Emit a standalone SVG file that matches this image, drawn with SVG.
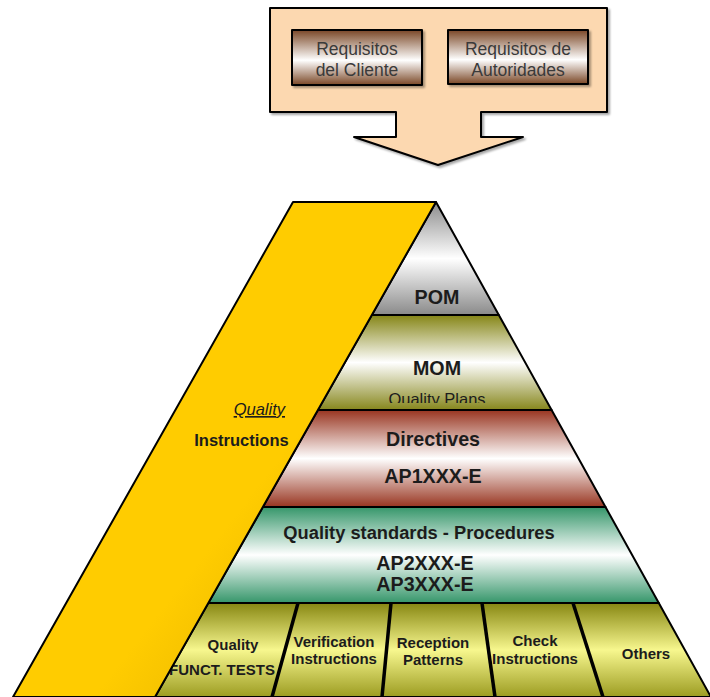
<svg xmlns="http://www.w3.org/2000/svg" width="710" height="697" viewBox="0 0 710 697">
<style>
  .t { font-family: "Liberation Sans", Arial, sans-serif; fill: #1c1c1c; text-anchor: middle; }
  .e { text-anchor: end; }
  .b { font-weight: bold; }
  .req { font-size: 17.5px; fill: #3a3a3a; }
  .lvl { font-size: 19.7px; font-weight: bold; }
  .cell { font-size: 15px; font-weight: bold; }
  .edge { stroke: #000; stroke-width: 2; stroke-linejoin: round; }
  .div { stroke: #000; stroke-width: 3.5; stroke-linecap: butt; }
</style>
<defs>
  <linearGradient id="gBrown" x1="0" y1="0" x2="0" y2="1">
    <stop offset="0" stop-color="#7a4726"/>
    <stop offset="0.55" stop-color="#ffffff"/>
    <stop offset="1" stop-color="#7a4726"/>
  </linearGradient>
  <linearGradient id="gGray" x1="0" y1="0" x2="0" y2="1">
    <stop offset="0" stop-color="#8c8c8c"/>
    <stop offset="0.5" stop-color="#ffffff"/>
    <stop offset="1" stop-color="#8a8a8a"/>
  </linearGradient>
  <linearGradient id="gOlive" x1="0" y1="0" x2="0" y2="1">
    <stop offset="0" stop-color="#858516"/>
    <stop offset="0.5" stop-color="#ffffff"/>
    <stop offset="1" stop-color="#86861c"/>
  </linearGradient>
  <linearGradient id="gRed" x1="0" y1="0" x2="0" y2="1">
    <stop offset="0" stop-color="#983520"/>
    <stop offset="0.5" stop-color="#ffffff"/>
    <stop offset="1" stop-color="#983520"/>
  </linearGradient>
  <linearGradient id="gGreen" x1="0" y1="0" x2="0" y2="1">
    <stop offset="0" stop-color="#35966a"/>
    <stop offset="0.5" stop-color="#ffffff"/>
    <stop offset="1" stop-color="#35966a"/>
  </linearGradient>
  <linearGradient id="gCell" gradientUnits="userSpaceOnUse" x1="0" y1="603" x2="0" y2="697">
    <stop offset="0" stop-color="#878712"/>
    <stop offset="0.5" stop-color="#f7f78e"/>
    <stop offset="1" stop-color="#9c9c22"/>
  </linearGradient>
  <linearGradient id="gYellow" gradientUnits="userSpaceOnUse" x1="150" y1="420" x2="330" y2="560">
    <stop offset="0" stop-color="#ffcc00"/>
    <stop offset="0.55" stop-color="#ffcc00"/>
    <stop offset="1" stop-color="#eebb00"/>
  </linearGradient>
  <filter id="shadow" x="-10%" y="-10%" width="125%" height="130%">
    <feDropShadow dx="2" dy="2" stdDeviation="1.2" flood-color="#000" flood-opacity="0.35"/>
  </filter>
  <clipPath id="clipPlans">
    <rect x="300" y="380" width="300" height="23"/>
  </clipPath>
</defs>

<g id="connectors"></g>

<g id="requirements-arrow">
  <polygon class="edge" fill="#fcd8b0" filter="url(#shadow)" points="270,8 607,8 607,112 481,112 481,137 523,137 438,165 354,137 396,137 396,112 270,112"/>
</g>

<g id="requisitos-cliente">
  <rect class="edge" x="292" y="30" width="130" height="55" fill="url(#gBrown)" filter="url(#shadow)"/>
  <text class="t req" x="357" y="55">Requisitos</text>
  <text class="t req" x="357" y="76">del Cliente</text>
</g>

<g id="requisitos-autoridades">
  <rect class="edge" x="448" y="30" width="140" height="54" fill="url(#gBrown)" filter="url(#shadow)"/>
  <text class="t req" x="518" y="55">Requisitos de</text>
  <text class="t req" x="518" y="76">Autoridades</text>
</g>

<g id="pom">
  <polygon class="edge" fill="url(#gGray)" points="436,202 498.8,315 371.8,315"/>
  <text class="t lvl" x="437" y="304">POM</text>
</g>

<g id="mom">
  <polygon class="edge" fill="url(#gOlive)" points="371.8,315 498.8,315 551.6,410 317.9,410"/>
  <text class="t lvl" x="437" y="375">MOM</text>
  <text class="t" x="437" y="405" font-size="16.5" fill="#4a4a4a" clip-path="url(#clipPlans)">Quality Plans</text>
</g>

<g id="directives">
  <polygon class="edge" fill="url(#gRed)" points="317.9,410 551.6,410 605.5,507 262.9,507"/>
  <text class="t lvl" x="433" y="446" font-size="19.5">Directives</text>
  <text class="t lvl" x="433" y="483">AP1XXX-E</text>
</g>

<g id="quality-standards">
  <polygon class="edge" fill="url(#gGreen)" points="262.9,507 605.5,507 658.8,603 208.3,603"/>
  <text class="t b" x="419" y="539" font-size="18.3">Quality standards - Procedures</text>
  <text class="t lvl" x="425" y="570">AP2XXX-E</text>
  <text class="t lvl" x="425" y="591">AP3XXX-E</text>
</g>

<g id="bottom-cells">
  <polygon class="edge" fill="url(#gCell)" points="208.3,603 658.8,603 711,697 155,697"/>
  <line class="div" x1="298" y1="603" x2="272" y2="697"/>
  <line class="div" x1="391" y1="603" x2="382" y2="697"/>
  <line class="div" x1="482" y1="603" x2="495" y2="697"/>
  <line class="div" x1="573" y1="603" x2="603" y2="697"/>
</g>

<g id="cell-quality-funct">
  <text class="t cell" x="233" y="650">Quality</text>
  <text class="t cell" x="222" y="675">FUNCT. TESTS</text>
</g>
<g id="cell-verification">
  <text class="t cell" x="334" y="647">Verification</text>
  <text class="t cell" x="334" y="664">Instructions</text>
</g>
<g id="cell-reception">
  <text class="t cell" x="433" y="648">Reception</text>
  <text class="t cell" x="433" y="665">Patterns</text>
</g>
<g id="cell-check">
  <text class="t cell" x="535" y="646">Check</text>
  <text class="t cell" x="535" y="664">Instructions</text>
</g>
<g id="cell-others">
  <text class="t cell" x="646" y="659">Others</text>
</g>

<g id="quality-instructions">
  <polygon class="edge" fill="url(#gYellow)" points="293,202 436,202 155,697 13,697"/>
  <text class="t e" x="285" y="415" font-size="16.5" font-style="italic" text-decoration="underline">Quality</text>
  <text class="t b" x="241.5" y="446" font-size="16.5">Instructions</text>
</g>
</svg>
